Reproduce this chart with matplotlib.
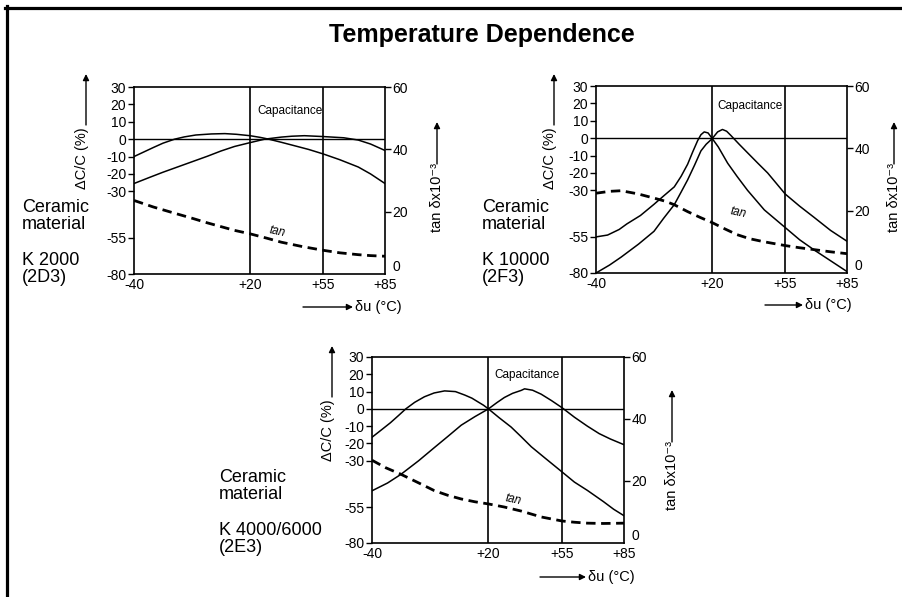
import numpy as np
import matplotlib
matplotlib.use("Agg")
import matplotlib.pyplot as plt
from matplotlib.patches import FancyArrowPatch
from matplotlib.lines import Line2D

# ---- data (temperature in degC) ----
# K 2000 (2D3)
k2000_cap_a_t = [-40, -35, -30, -25, -19, -14, -8, 0, 7, 13, 20, 25, 29, 35, 42, 48, 55, 63, 72, 78, 85]
k2000_cap_a_v = [-10, -7.4, -4.8, -2.3, 0, 1.3, 2.4, 3.0, 3.2, 2.8, 2, 1, 0, -1.8, -4, -5.9, -8.5, -11.8, -16, -20, -25.5]
k2000_cap_b_t = [-40, -32, -25, -17, -10, -2, 5, 12, 20, 27, 35, 40, 46, 55, 65, 72, 78, 85]
k2000_cap_b_v = [-25.5, -22, -19, -15.8, -13, -9.8, -6.8, -4.2, -2, 0, 1.2, 1.7, 2, 1.5, 0.8, -0.5, -2.8, -6.5]
k2000_tan_t = [-40, -30, -19, -10, -2, 5, 12, 20, 28, 35, 45, 55, 63, 72, 78, 85]
k2000_tan_v = [23.6, 21.5, 19.5, 17.9, 16.4, 15.2, 14.0, 12.9, 11.5, 10.2, 8.8, 7.6, 6.8, 6.2, 5.9, 5.7]

# K 10000 (2F3)
k10000_cap_a_t = [-40, -34, -28, -24, -17, -10, -5, 0.5, 4, 7.4, 10, 12.6, 14.3, 16, 18, 20,
                  23, 27.5, 32, 37, 45, 55, 62, 69, 77, 85]
k10000_cap_a_v = [-55, -54, -51, -48, -43.5, -37.5, -33, -28, -22, -15, -8, -1.4, 2, 3.6, 3, 0,
                  -5, -14.4, -22, -30, -40.5, -50, -57, -64, -71.5, -79]
k10000_cap_b_t = [-40, -33, -27, -18, -10, -5, 0.5, 4, 7.4, 11, 14.3, 17, 20, 22.7, 25, 27, 29,
                  33, 37, 42, 46.6, 55, 62, 69, 77, 85]
k10000_cap_b_v = [-80, -74.5, -69, -60, -52, -45, -37.7, -31, -24, -15.5, -7.3, -3.5, -0.4, 3.6, 5, 4, 1.6,
                  -3.5, -8.4, -14.5, -20, -32, -38.5, -44.5, -51.5, -58]
k10000_tan_t = [-40, -33, -27, -18.4, -9.8, -4, 0.5, 7.4, 14, 20, 26, 32, 38, 45, 55, 62, 69, 77, 85]
k10000_tan_v = [25.6, 26.2, 26.4, 25.4, 24, 23, 21.9, 19.7, 17.8, 16.2, 14.2, 12.3, 11, 10, 8.8, 8.1, 7.5, 6.8, 6.2]

# K 4000/6000 (2E3)
k4000_cap_a_t = [-40, -35, -30.5, -26.5, -22.6, -18, -13, -8, -2.6, 3, 7.8, 11.5, 14.7, 17.5, 20,
                 25, 30.8, 35.5, 40.4, 47, 55, 61, 67.3, 75, 80, 85]
k4000_cap_a_v = [-16.4, -12, -8, -4, 0, 3.8, 7, 9.2, 10.4, 10, 8, 6.2, 4, 2.1, 0,
                 -5, -10.5, -16, -21.9, -28.5, -36, -41.5, -46, -52, -56.5, -61]
k4000_cap_b_t = [-40, -32, -25.2, -16, -7.9, -1, 6, 13, 20, 24, 27.6, 31.5, 35.6, 37.2, 41, 45.1,
                 50, 55, 61, 67.3, 73, 78.4, 85]
k4000_cap_b_v = [-46.2, -42, -37.4, -30, -22.4, -16, -9.4, -4.5, 0, 3.6, 6.6, 9, 10.7, 11.6, 10.8, 8.5,
                 4.8, 0.7, -4.8, -10, -14.3, -17.4, -20.7]
k4000_tan_t = [-40, -33, -25.2, -16, -7.9, -1, 6, 13, 20, 27.6, 35.6, 45.1, 55, 61, 67.3, 75, 85]
k4000_tan_v = [26.7, 24.3, 22.2, 19.4, 16.9, 15.4, 14.2, 13.3, 12.6, 11.6, 10.3, 8.4, 7.1, 6.7, 6.4, 6.3, 6.4]

x_ticks = [-40, 20, 55, 85]
x_ticklabels = ["-40", "+20", "+55", "+85"]
y_ticks = [30, 20, 10, 0, -10, -20, -30, -55, -80]
y2_ticks = [0, 20, 40, 60]

# the printed axes are not quite linear: piecewise scales
X_KNOTS = ([-40, 20, 55, 85], [0.0, 0.462, 0.754, 1.0])
Y_KNOTS = ([-80, -55, -30, 30], [0.0, 0.193, 0.442, 1.0])


def piecewise(xk, yk):
    xk = np.asarray(xk, float)
    yk = np.asarray(yk, float)
    s0 = (yk[1] - yk[0]) / (xk[1] - xk[0])
    s1 = (yk[-1] - yk[-2]) / (xk[-1] - xk[-2])

    def f(v):
        v = np.asarray(v, float)
        out = np.interp(v, xk, yk)
        out = np.where(v < xk[0], yk[0] + (v - xk[0]) * s0, out)
        out = np.where(v > xk[-1], yk[-1] + (v - xk[-1]) * s1, out)
        return out
    return f


xf, xi = piecewise(*X_KNOTS), piecewise(X_KNOTS[1], X_KNOTS[0])
yf, yi = piecewise(*Y_KNOTS), piecewise(Y_KNOTS[1], Y_KNOTS[0])

plt.rcParams["font.family"] = ["Liberation Sans", "DejaVu Sans"]

W, H = 902, 597
fig = plt.figure(figsize=(W / 100, H / 100), dpi=100)


def P(x, y):
    return (x / W, 1 - y / H)


def arrow(x0, y0, x1, y1):
    a = FancyArrowPatch(P(x0, y0), P(x1, y1), transform=fig.transFigure,
                        arrowstyle="-|>", mutation_scale=9, lw=1.0,
                        color="black", shrinkA=0, shrinkB=0)
    fig.add_artist(a)


def panel(box, cap_a, cap_b, tan, cap_pos, tan_pos):
    l, t, r, b = box
    ax = fig.add_axes([l / W, 1 - b / H, (r - l) / W, (b - t) / H])
    ax.set_xscale("function", functions=(xf, xi))
    ax.set_yscale("function", functions=(yf, yi))
    ax.set_xlim(-40, 85)
    ax.set_ylim(-80, 30)
    for s in ax.spines.values():
        s.set_linewidth(1.2)
    ax.axhline(0, color="black", lw=1.0)
    ax.axvline(20, color="black", lw=1.2)
    ax.axvline(55, color="black", lw=1.2)
    ax.plot(cap_a[0], cap_a[1], color="black", lw=1.1)
    ax.plot(cap_b[0], cap_b[1], color="black", lw=1.1)
    ax.set_xticks(x_ticks)
    ax.set_xticklabels(x_ticklabels)
    ax.set_yticks(y_ticks)
    ax.set_yticklabels([str(v) for v in y_ticks])
    ax.minorticks_off()
    ax.tick_params(axis="x", length=0, pad=3, labelsize=10)
    ax.tick_params(axis="y", direction="out", length=4, width=1, pad=1.5, labelsize=10)

    ax2 = ax.twinx()
    ax2.set_ylim(0, 60)
    ax2.set_yticks(y2_ticks)
    ax2.minorticks_off()
    for s in ax2.spines.values():
        s.set_visible(False)
    ax2.tick_params(axis="y", direction="out", length=4, width=1, pad=1.5, labelsize=10)
    zero = ax2.yaxis.get_major_ticks()[0]
    zero.tick2line.set_visible(False)
    zero.label2.set_verticalalignment("bottom")
    ax2.plot(tan[0], tan[1], color="black", lw=2.0, dashes=(3.4, 2.0))

    fig.text(*P(*cap_pos), "Capacitance", fontsize=8.5, ha="center", va="center")
    fig.text(*P(*tan_pos), "tan", fontsize=8.5, style="italic", ha="center",
             va="center", rotation=-12)
    return ax


def side_labels(dc_x, dc_y, tan_x, tan_y, tan_tip):
    # vertical axis captions with arrows
    fig.text(*P(dc_x, dc_y), "\u0394C/C (%)", rotation=90, fontsize=10.5,
             ha="center", va="center")
    arrow(dc_x + 4, dc_y - 33, dc_x + 4, dc_y - 84)
    fig.text(*P(tan_x, tan_y), "tan \u03b4x10\u207b\u00b3", rotation=90, fontsize=10.5,
             ha="center", va="center")
    arrow(tan_x, tan_y - 33, tan_x, tan_tip)


def x_caption(x0, x1, y):
    arrow(x0, y, x1, y)
    fig.text(*P(x1 + 2, y), "\u03b4u (\u00b0C)", fontsize=10.5, ha="left", va="center")


def material(x, y, line2):
    fig.text(*P(x, y), "Ceramic\nmaterial", fontsize=13, ha="left", va="center",
             linespacing=1.0)
    fig.text(*P(x, y + 53), line2, fontsize=13, ha="left", va="center",
             linespacing=1.05)


# frame (top and left rules)
fig.add_artist(Line2D([5 / W, 1], [1 - 7.5 / H] * 2, transform=fig.transFigure,
                      color="black", lw=2.3))
fig.add_artist(Line2D([6.5 / W] * 2, [1 - 6 / H, 0], transform=fig.transFigure,
                      color="black", lw=2.3))

fig.text(*P(482, 35), "Temperature Dependence", fontsize=18, fontweight="bold",
         ha="center", va="center")

panel((134, 87, 385, 274),
      (k2000_cap_a_t, k2000_cap_a_v), (k2000_cap_b_t, k2000_cap_b_v),
      (k2000_tan_t, k2000_tan_v), (290, 111), (277, 232))
side_labels(82, 158, 437, 197, 122)
x_caption(303, 353, 307)
material(22, 216, "K 2000\n(2D3)")

panel((596, 86, 847, 273),
      (k10000_cap_a_t, k10000_cap_a_v), (k10000_cap_b_t, k10000_cap_b_v),
      (k10000_tan_t, k10000_tan_v), (750, 106), (738, 213))
side_labels(550, 158, 894, 197, 122)
x_caption(765, 803, 305)
material(482, 216, "K 10000\n(2F3)")

panel((372, 357, 624, 543),
      (k4000_cap_a_t, k4000_cap_a_v), (k4000_cap_b_t, k4000_cap_b_v),
      (k4000_tan_t, k4000_tan_v), (527, 375), (513, 500))
side_labels(328, 430, 672, 475, 390)
x_caption(540, 586, 577)
material(219, 486, "K 4000/6000\n(2E3)")

fig.savefig("out.png", dpi=100)
